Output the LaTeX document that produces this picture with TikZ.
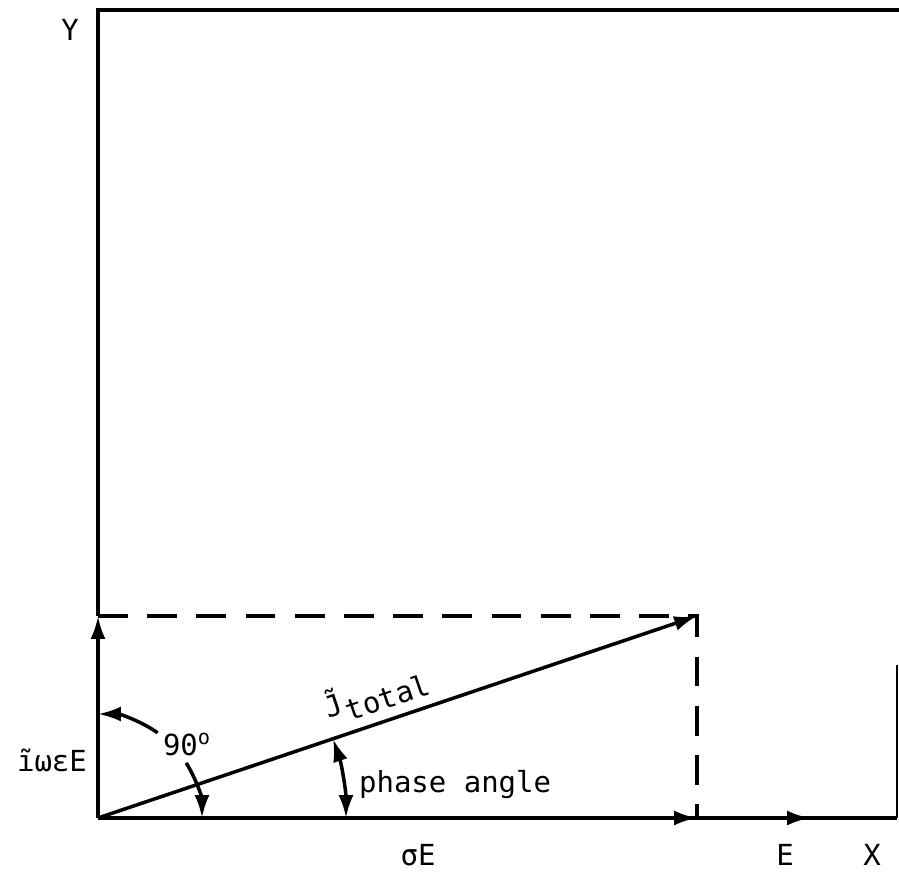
\documentclass[tikz,border=0pt]{standalone}
\usepackage{fontspec}
\setmonofont{DejaVu Sans Mono}
\usetikzlibrary{arrows.meta}

\begin{document}
\begin{tikzpicture}[x=0.02cm,y=0.02cm,>={Latex[length=13pt,width=8.5pt]},
    axis/.style={line width=2pt},
    vec/.style={->,line width=2pt},
    guide/.style={line width=2pt,dash pattern=on 17pt off 11pt},
    lbl/.style={font=\ttfamily\fontsize{16.5}{19}\selectfont,inner sep=1pt}]
      \useasboundingbox (0,0) rectangle (899,873);
      \coordinate (O) at (98,55);
      \coordinate (Q) at (98,257);
      \coordinate (P) at (697,257);
      \coordinate (R) at (697,55);
      \coordinate (Etip) at (810,55);
      \coordinate (Xend) at (897,55);
      \coordinate (RT) at (897,208);
      \coordinate (TL) at (98,863);
      \coordinate (TR) at (899,863);

      % frame
      \draw[line width=2.4pt] (Q) -- (TL) -- (TR);
      \draw[axis] (O) -- (Xend);
      \draw[line width=0.8pt] (Xend) -- (RT);

      % components and resultant
      \draw[vec] (O) -- (Q);
      \draw[vec] (O) -- (R);
      \draw[vec] (R) -- (Etip);
      \draw[guide] (Q) -- (P) -- (R);
      \draw[vec] (O) -- (P) node[lbl, pos=0.48, sloped, above=4pt] (jt) {J̃\kern1pt\raisebox{-0.6ex}{total}};

      % angles
      \draw[vec] ([shift={(55:104)}]O) arc (55:90:104);
      \draw[vec] ([shift={(32:104)}]O) arc (32:0:104);
      \draw[<->,line width=2pt] (O) ++(0:248) arc (0:18.6:248);

      \node[lbl] (ninety) at (187,128) {90\textsuperscript{o}};
      \node[lbl, anchor=west] (phase) at (357,88) {phase angle};
      \node[lbl] (iwe) at (52,113) {ĩωεE};
      \node[lbl] (sE) at (418,18) {σE};
      \node[lbl] (E) at (785,18) {E};
      \node[lbl] (X) at (872,18) {X};
      \node[lbl] (Y) at (70,843) {Y};
\end{tikzpicture}
\end{document}
